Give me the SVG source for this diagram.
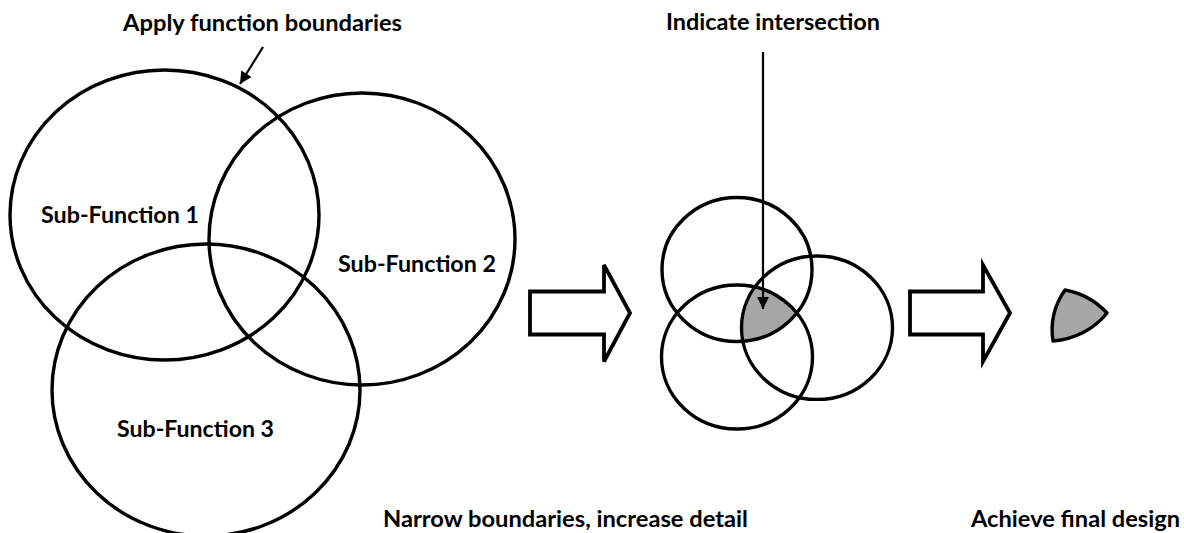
<svg xmlns="http://www.w3.org/2000/svg" width="1184" height="533" viewBox="0 0 1184 533">
<style>
.c{fill:none;stroke:#000;stroke-width:3.4}
.b{fill:#fff;stroke:#000;stroke-width:3.8;stroke-linejoin:miter}
.t{font-family:Lato,"Liberation Sans",sans-serif;font-weight:bold;font-size:22px;fill:#000}
.g{fill:#a6a6a6}
.ln{stroke:#000;stroke-width:2.2;fill:none}
</style>
<defs>
<marker id="ah" viewBox="0 0 10 10" refX="10" refY="5" markerWidth="6" markerHeight="5.5" markerUnits="strokeWidth" orient="auto">
<path d="M0,0 L10,5 L0,10 Z" fill="#000"/>
</marker>
<clipPath id="clipA"><ellipse cx="737" cy="269.5" rx="75" ry="72"/></clipPath>
<clipPath id="clipB"><ellipse cx="737" cy="357" rx="75.5" ry="72"/></clipPath>
</defs>
<rect width="1184" height="533" fill="#fff"/>

<g id="sub-function-1">
<ellipse class="c" cx="164.5" cy="215" rx="154.5" ry="145"/>
<text class="t" x="41" y="223" textLength="158" lengthAdjust="spacingAndGlyphs">Sub-Function 1</text>
</g>
<g id="sub-function-2">
<ellipse class="c" cx="362" cy="239" rx="153" ry="146"/>
<text class="t" x="338" y="272" textLength="158" lengthAdjust="spacingAndGlyphs">Sub-Function 2</text>
</g>
<g id="sub-function-3">
<ellipse class="c" cx="206" cy="390" rx="154" ry="146"/>
<text class="t" x="117" y="437" textLength="157" lengthAdjust="spacingAndGlyphs">Sub-Function 3</text>
</g>
<g id="label-apply">
<text class="t" x="123" y="31" textLength="279" lengthAdjust="spacingAndGlyphs">Apply function boundaries</text>
</g>

<g id="arrow-1">
<path class="b" d="M530,291.5 H604 V265 L630,313 L604,361.5 V334.5 H530 Z"/>
</g>
<g id="label-narrow">
<text class="t" x="383" y="527" textLength="365" lengthAdjust="spacingAndGlyphs">Narrow boundaries, increase detail</text>
</g>

<g id="intersection">
<g clip-path="url(#clipB)">
<g clip-path="url(#clipA)">
<ellipse class="g" cx="817" cy="327.7" rx="75.5" ry="71.7"/>
</g>
</g>
<ellipse class="c" cx="737" cy="269.5" rx="75" ry="72"/>
<ellipse class="c" cx="737" cy="357" rx="75.5" ry="72"/>
<ellipse class="c" cx="817" cy="327.7" rx="75.5" ry="71.7"/>
</g>
<g id="label-indicate">
<text class="t" x="666" y="30" textLength="214" lengthAdjust="spacingAndGlyphs">Indicate intersection</text>
</g>

<g id="arrow-2">
<path class="b" d="M910,291.5 H983 V265 L1010,313 L983,361.5 V334.5 H910 Z"/>
</g>

<g id="final-design">
<path d="M1065,290 A75 72 0 0 1 1107,313 A75 72 0 0 1 1053,341 A75 72 0 0 1 1065,290 Z" fill="#a6a6a6" stroke="#000" stroke-width="3.4" stroke-linejoin="round"/>
</g>
<g id="label-achieve">
<text class="t" x="971" y="527" textLength="209" lengthAdjust="spacingAndGlyphs">Achieve final design</text>
</g>

<g id="connectors">
<line class="ln" x1="263" y1="47" x2="240" y2="84" marker-end="url(#ah)"/>
<line class="ln" x1="763" y1="52" x2="763" y2="309" marker-end="url(#ah)"/>
</g>
</svg>
